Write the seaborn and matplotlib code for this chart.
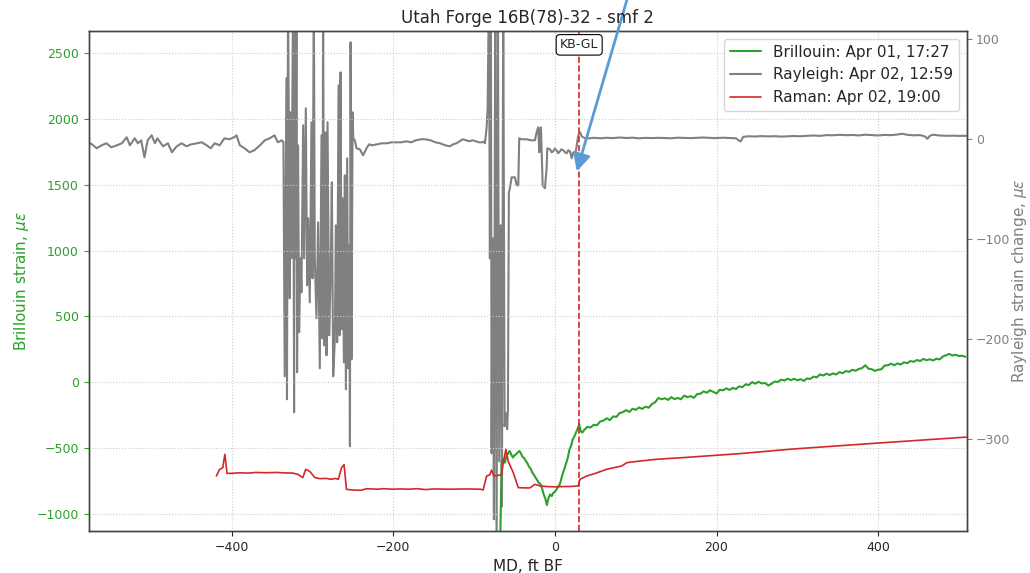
import numpy as np
import matplotlib
matplotlib.use("Agg")
import matplotlib.pyplot as plt
import seaborn as sns

# ---------------------------------------------------------------------------
# Brillouin absolute strain (left axis)
brillouin_md = [
    -68.5, -66, -64, -62, -60, -58, -56, -54, -52, -50, -48, -46, -44, -42,
    -40, -38, -36, -34, -32, -30, -28, -26, -24, -22, -20, -18, -16, -14,
    -12, -10, -8, -6, -4, -2, 0, 2, 4, 6, 8, 10, 12, 14, 16, 18, 20, 22,
    24, 26, 28, 30, 32, 34,
    36, 40, 44, 48, 52, 56, 60, 64, 68, 72, 76, 80, 84, 88, 92, 96, 100,
    104, 108, 112, 116, 120, 124, 128, 132, 136, 140, 144, 148, 152, 156,
    160, 164, 168, 172, 176, 180, 184, 188, 192, 196, 200, 204, 208, 212,
    216, 220, 224, 228, 232, 236, 240, 244, 248, 252, 256, 260, 264, 268,
    272, 276, 280, 284, 288, 292, 296, 300, 304, 308, 312, 316, 320, 324,
    328, 332, 336, 340, 344, 348, 352, 356, 360, 364, 368, 372, 376, 380,
    384, 388, 392, 396, 400, 404, 408, 412, 416, 420, 424, 428, 432, 436,
    440, 444, 448, 452, 456, 460, 464, 468, 472, 476, 480, 484, 488, 492,
    496, 500, 504, 508,
]
brillouin_strain = [
    -1500, -600, -583, -609, -558, -540, -520, -548, -570, -552, -545, -530,
    -520, -540, -565, -575, -596, -615, -640, -655, -684, -700, -722, -740,
    -762, -770, -802, -848, -880, -930, -878, -850, -862, -838, -830, -811,
    -790, -773, -730, -684, -650, -609, -570, -508, -482, -432, -410, -381,
    -352, -318, -372, -380,
    -362, -338, -342, -322, -325, -296, -290, -272, -286, -258, -262, -232,
    -226, -210, -224, -200, -208, -190, -201, -184, -192, -165, -150, -118,
    -128, -120, -133, -112, -127, -118, -128, -100, -112, -104, -117, -88,
    -86, -68, -78, -60, -72, -84, -56, -60, -45, -57, -42, -50, -30, -36,
    -14, -20, 2, -10, 5, -8, -4, -24, -10, 6, 4, 21, 14, 28, 17, 27, 16,
    24, 12, 30, 26, 44, 38, 60, 52, 66, 56, 68, 60, 78, 70, 86, 80, 96, 88,
    102, 108, 130, 104, 100, 88, 96, 100, 128, 130, 142, 130, 144, 136, 152,
    146, 162, 156, 170, 162, 178, 168, 176, 166, 180, 174, 196, 206, 216,
    204, 210, 200, 202, 194,
]

# Rayleigh strain change (right axis)
rayleigh_md = [
    -580, -578, -573, -567, -561, -555, -549, -542, -536, -530, -526, -520,
    -516, -512, -508, -504, -499, -495, -492, -485, -479, -474, -468, -462,
    -456, -450, -443, -437, -431, -426, -421, -415, -409, -403, -397, -394,
    -390, -384, -378, -372, -365, -359, -353, -347, -343, -338, -336,
    -334.4, -332.3, -331.6, -330.3, -328.2, -327.4, -326.1, -324.1, -322.8,
    -322.0, -320.7, -319.9, -319.1, -317.9, -316.6, -314.9, -313.7, -311.6,
    -310.4, -308.3, -306.7, -305.4, -303.4, -301.3, -300.0, -298.4, -297.2,
    -295.1, -293.1, -291.0, -288.9, -287.7, -286.9, -285.7, -283.9, -282.7,
    -281.4, -279.4, -277.7, -276.1, -274.4, -272.4, -271.2, -269.5, -267.8,
    -266.5, -265.3, -264.1, -262.8, -261.2, -260.0, -258.7, -257.1, -255.8,
    -254.6, -253.7, -252.9, -251.7, -250.4, -249.6, -247.7, -245.5, -241.5,
    -237.4, -233.2, -229.9,
    -226, -220, -214, -208, -202, -196, -190, -184, -178, -172, -166, -160,
    -154, -148, -142, -136, -130, -126, -122, -118, -114, -110, -106, -102,
    -98, -94, -90, -87,
    -86.7, -84.6, -83.3, -81.7, -80.5, -79.3, -78.4, -77.2, -75.5, -73.9,
    -72.2, -70.6, -69.0, -67.2, -65.6, -64.0, -62.3, -60.7, -59.1, -58.2,
    -57.0, -55.7, -53.6, -49.5, -47.4, -45.4, -44.2, -41.2, -35.0, -30.0,
    -24.8, -22.7, -20.7, -19.4, -18.6, -17.3, -15.2, -12.4, -10.3, -9.5,
    -6.2, -4.0, -2.1, 0.0, 2.1, 4.0, 6.2, 8.0, 10.3, 12.5, 14.5, 16.5, 18.6,
    20.7, 22.7, 24.5, 26.0, 28.9, 31.0, 33.1, 37.2, 43.3,
    48, 56, 64, 72, 80, 88, 96, 104, 112, 120, 128, 136, 144, 152, 160, 168,
    176, 184, 192, 200, 208, 216, 224, 228, 230, 233, 240, 248, 256, 264,
    272, 280, 288, 296, 304, 312, 320, 328, 336, 344, 352, 360, 368, 376,
    384, 392, 400, 408, 416, 424, 430, 436, 444, 452, 458, 461, 464, 468,
    476, 484, 492, 500, 508, 512,
]
rayleigh_change = [
    -3, -3, -5, -9, -6, -4, -8, -6, -4, 2, -6, 1, -4, -1, -18, -1, 4, -4, 1,
    -7, -4, -13, -7, -4, -7, -5, -4, -3, -6, -9, -4, -6, 1, 0, 2, 4, -6, -9,
    -13, -11, -6, -1, 1, 4, -3, -1, -3,
    -237, 61, -260, 150, -159, 27, -119, 150, -273, 150, -119, 150, -233,
    -6, -193, -119, -153, 14, -119, 31, -146, -79, -163, 17, -139, 150,
    -119, -179, -83, -229, 4, -199, 150, -206, 7, -216, 17, -196, -139,
    -43, -237, -200, -86, -203, 54, -196, 67, -190, -59, -223, -36, -250,
    -19, -229, -106, -307, 97, -220, 27, 1, -1, -9, -10, -16, -9, -5,
    -6, -5, -4, -4, -3, -3, -3, -2, -3, -1, 0, 0, -1, -3, -4, -6, -7, -5,
    -4, -2, 0, -1, -2, -1, -2, -3, -3, -2,
    -4, 11, 31, 150, -119, 150, -314, -99, -380, 150, -420, 150, -322, -86,
    -367, 150, -287, -274, -290, -270, -53, -49, -38, -38, -46, -46, 1, 0,
    0, -1, -1, 7, 12, -13, 8, 12, -46, -49, -29, -9, -10, -13, -12, -9,
    -11, -14, -12, -10, -11, -13, -14, -11, -12, -19, -13, -15, -11, 4, 7,
    3, 1, 1,
    1.5, 1.0, 1.5, 1.2, 1.8, 1.3, 1.6, 1.0, 1.4, 1.2, 1.5, 1.3, 1.0, 1.6,
    1.4, 1.2, 1.5, 1.8, 1.4, 1.2, 1.6, 1.3, 1.0, -1.5, -2.0, 2.5, 3.0, 2.8,
    3.2, 2.9, 3.1, 2.7, 3.0, 3.3, 3.0, 3.5, 3.8, 3.4, 4.2, 4.0, 4.5, 4.1,
    4.3, 3.9, 4.6, 4.2, 3.8, 4.4, 4.1, 4.8, 5.5, 4.5, 4.0, 4.2, 2.8, 0.5,
    3.5, 4.6, 3.8, 3.5, 3.6, 3.4, 3.5, 3.5,
]

# Raman-derived strain (left axis)
raman_md = [
    -419, -415, -411, -408.5, -405.8, -400, -390, -380, -370, -357, -345,
    -336, -324, -318, -312, -308.4, -303.4, -297, -291, -283, -277, -272,
    -268, -264, -261, -258, -250, -240, -233, -220, -212, -200, -192, -180,
    -171, -160, -150, -130, -109, -92, -88.8, -84.6, -80.5, -78.4, -75.5,
    -70, -66, -64, -60.7, -57.8, -51.6, -45.4, -38, -31, -24.8, -18.6, -10,
    0, 10, 20, 28.9, 31, 39.3, 50, 64, 82.6, 88.8, 100, 126, 160, 229, 295,
    400, 509,
]
raman_strain = [
    -710, -660, -646, -545, -690, -690, -685, -688, -683, -685, -683, -686,
    -688, -698, -722, -659, -675, -722, -730, -728, -735, -728, -735, -646,
    -624, -811, -816, -818, -806, -810, -806, -810, -808, -810, -806, -813,
    -808, -810, -808, -810, -816, -710, -700, -664, -710, -705, -700, -609,
    -508, -600, -684, -798, -800, -800, -773, -785, -790, -792, -790, -789,
    -785, -735, -710, -690, -659, -634, -609, -600, -583, -570, -540, -505,
    -460, -415,
]

legend_labels = ["Brillouin: Apr 01, 17:27", "Rayleigh: Apr 02, 12:59",
                 "Raman: Apr 02, 19:00"]
x_ticks = [-400, -200, 0, 200, 400]
left_ticks = [-1000, -500, 0, 500, 1000, 1500, 2000, 2500]
right_ticks = [-300, -200, -100, 0, 100]
kb_gl_md = 30

# ---------------------------------------------------------------------------
sns.set_style("ticks")
plt.rcParams["font.family"] = ["DejaVu Sans"]

GREEN = "#2ca02c"
GRAY = "#808080"
RED = "#d62728"

fig = plt.figure(figsize=(10.3, 5.73), dpi=100)
ax = fig.add_axes([0.0861, 0.0733, 0.8524, 0.8726])
ax2 = ax.twinx()

sns.lineplot(x=rayleigh_md, y=rayleigh_change, ax=ax2, color=GRAY, lw=1.5,
             sort=False, estimator=None, label=legend_labels[1])
sns.lineplot(x=brillouin_md, y=brillouin_strain, ax=ax, color=GREEN, lw=1.5,
             sort=False, estimator=None, label=legend_labels[0])
sns.lineplot(x=raman_md, y=raman_strain, ax=ax, color=RED, lw=1.2,
             sort=False, estimator=None, label=legend_labels[2])

for a in (ax, ax2):
    if a.get_legend() is not None:
        a.get_legend().remove()

# left-axis curves drawn above the Rayleigh trace
ax.set_zorder(ax2.get_zorder() + 1)
ax.patch.set_visible(False)

ax.set_xlim(-577, 509.5)
ax.set_ylim(-1127, 2665)
ax2.set_ylim(-391.7, 108.3)
ax.set_xticks(x_ticks)
ax.set_yticks(left_ticks)
ax2.set_yticks(right_ticks)

ax.grid(True, ls=":", color="#cccccc", lw=0.8)
ax2.grid(False)

ax.tick_params(axis="y", colors=GREEN, labelsize=9)
ax.tick_params(axis="x", labelsize=9)
ax2.tick_params(axis="y", colors=GRAY, labelsize=9, pad=3)
for a in (ax, ax2):
    for s in a.spines.values():
        s.set_color("#444444")
        s.set_linewidth(1.0)

ax.set_xlabel("MD, ft BF", fontsize=11)
ax.set_ylabel(r"Brillouin strain, $\mu\varepsilon$", color=GREEN, fontsize=11)
ax2.set_ylabel(r"Rayleigh strain change, $\mu\varepsilon$", color=GRAY,
               fontsize=11, labelpad=0)
ax.set_title("Utah Forge 16B(78)-32 - smf 2", fontsize=12)

# casing reference marker
ax.axvline(kb_gl_md, color=RED, ls="--", lw=1.2)
ax.text(kb_gl_md, 2560, "KB-GL", ha="center", va="center", fontsize=9,
        bbox=dict(boxstyle="round,pad=0.3", fc="white", ec="black", lw=0.8))

ax.annotate("", xy=(27, 1600), xytext=(100, 3130),
            arrowprops=dict(arrowstyle="-|>", color="#5b9bd5", lw=2,
                            mutation_scale=26, shrinkA=0, shrinkB=0),
            annotation_clip=False)

h1, l1 = ax.get_legend_handles_labels()
h2, l2 = ax2.get_legend_handles_labels()
handles = {lab: h for h, lab in zip(h1 + h2, l1 + l2)}
ax.legend([handles[l] for l in legend_labels], legend_labels,
          loc="upper right", fontsize=11)

fig.savefig("out.png", dpi=100)
